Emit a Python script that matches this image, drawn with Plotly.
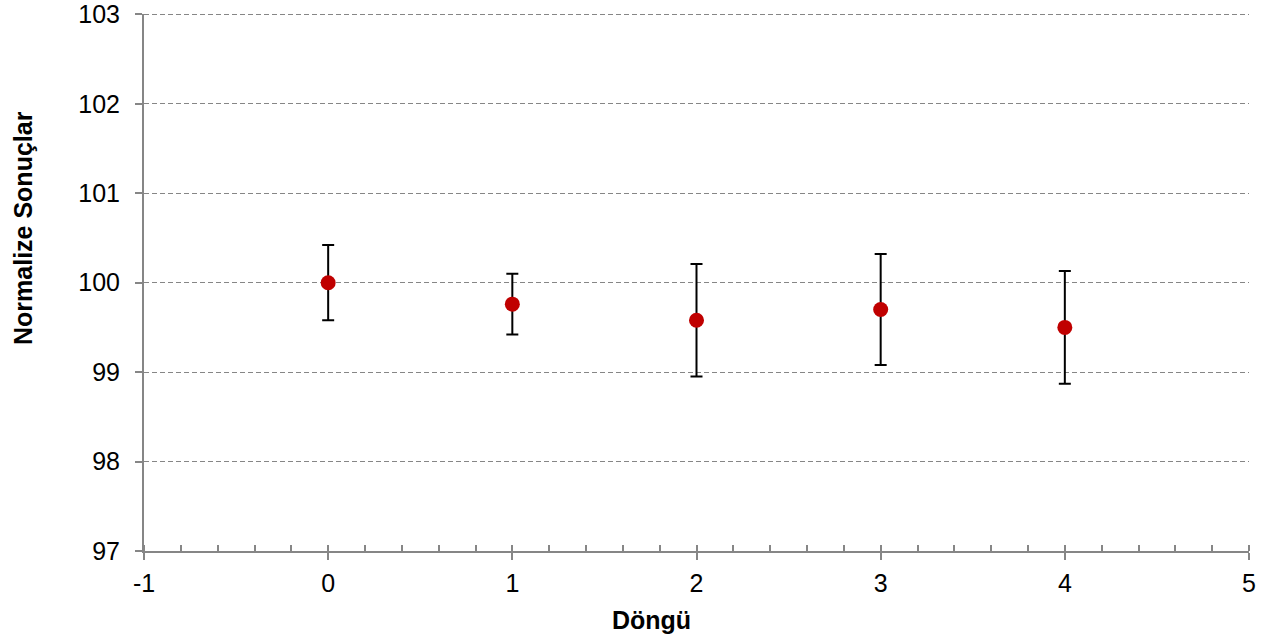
import plotly.graph_objects as go

cycles = [0, 1, 2, 3, 4]
values = [100.00, 99.76, 99.58, 99.70, 99.50]
errors = [0.42, 0.34, 0.63, 0.62, 0.63]

x_tick_vals = [-1, 0, 1, 2, 3, 4, 5]
x_tick_text = ["-1", "0", "1", "2", "3", "4", "5"]
y_tick_vals = [97, 98, 99, 100, 101, 102, 103]

x_title = "Döngü"
y_title = "Normalize Sonuçlar"

axis_color = "#868686"
font_family = "Liberation Sans, Arial, sans-serif"

fig = go.Figure()
fig.add_trace(go.Scatter(
    x=cycles, y=values, mode="markers",
    marker=dict(color="#C00000", size=15),
    error_y=dict(type="data", array=errors, visible=True,
                 color="black", thickness=2, width=6),
    showlegend=False,
))

# top gridline (plotly hides gridlines on the range edge)
fig.add_shape(type="line", xref="paper", yref="y",
              x0=0, x1=1, y0=y_tick_vals[-1], y1=y_tick_vals[-1],
              line=dict(color=axis_color, width=1.3, dash="5px,3px"),
              layer="below")

fig.update_layout(
    width=1275, height=644,
    margin=dict(l=144, r=26, t=14, b=93),
    paper_bgcolor="white", plot_bgcolor="white",
    font=dict(family=font_family, size=25, color="black"),
    xaxis=dict(
        range=[-1, 5], tickvals=x_tick_vals, ticktext=x_tick_text,
        showline=True, linecolor=axis_color, linewidth=2,
        ticks="outside", ticklen=7, tickwidth=2, tickcolor=axis_color,
        minor=dict(dtick=0.2, tick0=-1, ticks="inside", ticklen=6,
                   tickwidth=1.5, tickcolor=axis_color, showgrid=False),
        showgrid=False, zeroline=False, automargin=False,
        tickfont=dict(size=25), ticklabelstandoff=2,
    ),
    yaxis=dict(
        range=[97, 103.004], tickvals=y_tick_vals,
        showline=True, linecolor=axis_color, linewidth=2,
        ticks="outside", ticklen=7, tickwidth=2, tickcolor=axis_color,
        showgrid=True, gridcolor=axis_color, griddash="5px,3px", gridwidth=1.3,
        zeroline=False, automargin=False,
        tickfont=dict(size=25), ticklabelstandoff=10,
    ),
    annotations=[
        dict(text="<b>" + x_title + "</b>", xref="paper", yref="paper",
             x=(651 - 144) / 1105, y=(551 - 620) / 537,
             xanchor="center", yanchor="middle", showarrow=False,
             font=dict(size=25)),
        dict(text="<b>" + y_title + "</b>", xref="paper", yref="paper",
             x=(23 - 144) / 1105, y=(551 - 228) / 537, textangle=-90,
             xanchor="center", yanchor="middle", showarrow=False,
             font=dict(size=25)),
    ],
)

fig.write_html("out.html", config={"displayModeBar": False},
               post_script="document.body.style.margin='0px';")
